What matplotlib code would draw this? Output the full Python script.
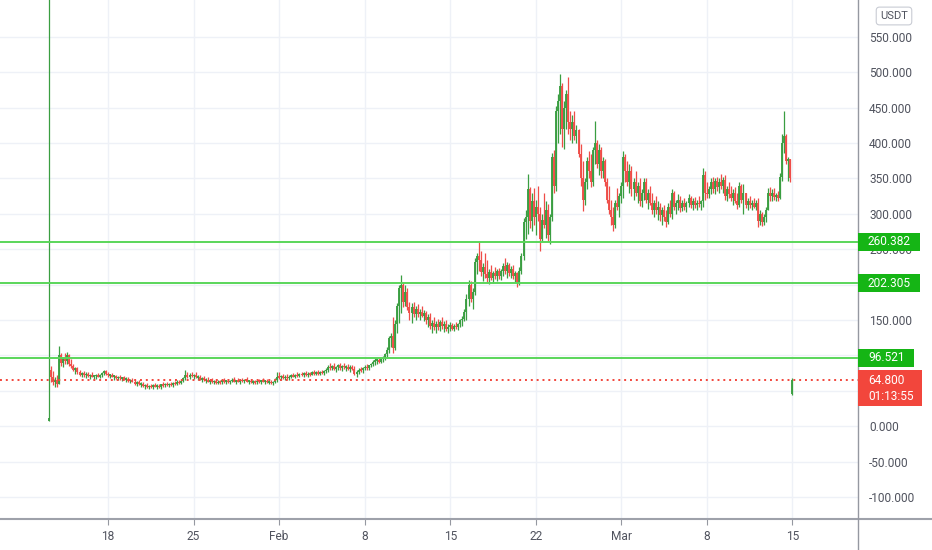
import matplotlib
matplotlib.use("Agg")
import matplotlib.pyplot as plt
import matplotlib.dates as mdates
from matplotlib.transforms import blended_transform_factory, offset_copy, IdentityTransform
from matplotlib.patches import Rectangle
from matplotlib.lines import Line2D
from datetime import datetime, timedelta
import numpy as np

# ---------------- data ----------------
start_time = datetime(2021, 1, 13, 4)   # first 4h bar
bar_hours = 4

# one row per day (Jan 13 has 5 bars, then 6 bars per day), last row = Mar 15 bar
high = [
    900, 85, 78, 70, 72,
    114, 104, 98, 103, 105, 102,
    95, 88, 84, 84, 79, 77,
    78, 76, 77, 74, 76, 73,
    74, 75, 74, 76, 80, 79,
    76, 74, 75, 72, 73, 71,
    72, 70, 71, 69, 69, 67,
    68, 66, 64, 65, 62, 63,
    60, 61, 58, 60, 59, 61,
    59, 60, 60, 62, 61, 63,
    61, 63, 62, 64, 65, 66,
    66, 70, 79, 76, 75, 76,
    74, 76, 72, 73, 70, 71,
    68, 69, 67, 68, 66, 67,
    65, 66, 67, 68, 66, 67,
    66, 68, 69, 66, 68, 67,
    68, 67, 69, 66, 67, 65,
    66, 65, 67, 66, 68, 66,
    67, 65, 66, 64, 68, 77,
    76, 73, 74, 72, 74, 72,
    74, 75, 74, 76, 75, 77,
    76, 78, 76, 77, 78, 79,
    78, 80, 78, 80, 79, 82,
    86, 90, 87, 89, 85, 88,
    89, 87, 90, 86, 88, 86,
    87, 85, 80, 82, 84, 83,
    86, 88, 87, 90, 93, 96,
    96, 97, 96, 99, 104, 112,
    128, 132, 154, 150, 174, 199,
    214, 202, 199, 195, 176, 174,
    175, 170, 172, 166, 170, 164,
    163, 158, 160, 150, 154, 148,
    152, 150, 154, 148, 150, 144,
    147, 146, 145, 147, 146, 152,
    156, 165, 187, 206, 205, 195,
    238, 245, 262, 248, 230, 245,
    235, 222, 228, 220, 225, 222,
    224, 222, 230, 238, 232, 230,
    226, 228, 220, 218, 225, 245,
    294, 305, 356, 338, 330, 337,
    320, 339, 310, 300, 330, 318,
    314, 300, 386, 390, 452, 470,
    497, 485, 460, 475, 494, 445,
    440, 445, 425, 420, 399, 375,
    350, 380, 389, 385, 395, 431,
    405, 399, 395, 380, 378, 350,
    339, 320, 310, 320, 337, 330,
    345, 389, 385, 375, 370, 368,
    350, 360, 345, 350, 335, 351,
    350, 335, 340, 330, 320, 325,
    318, 315, 310, 312, 305, 315,
    320, 335, 332, 320, 328, 325,
    320, 322, 318, 328, 325, 322,
    324, 320, 325, 320, 365, 360,
    345, 340, 350, 352, 350, 352,
    350, 356, 352, 355, 340, 345,
    340, 335, 338, 330, 345, 342,
    342, 330, 322, 325, 320, 322,
    320, 322, 305, 302, 300, 310,
    336, 338, 335, 336, 330, 332,
    358, 413, 445, 413, 380, 378,
    68,
]
low = [
    7, 62, 58, 55, 56,
    60, 85, 84, 88, 88, 85,
    82, 78, 74, 74, 71, 69,
    70, 68, 70, 67, 69, 66,
    67, 69, 68, 70, 72, 72,
    70, 68, 69, 66, 67, 65,
    66, 64, 65, 63, 63, 61,
    62, 58, 57, 58, 55, 56,
    53, 54, 52, 54, 53, 55,
    53, 54, 53, 56, 55, 57,
    55, 57, 56, 58, 58, 59,
    60, 62, 66, 68, 67, 69,
    67, 68, 65, 65, 63, 64,
    61, 62, 60, 61, 59, 60,
    59, 60, 60, 61, 60, 61,
    60, 62, 62, 60, 62, 60,
    62, 61, 62, 60, 61, 59,
    60, 59, 61, 60, 62, 60,
    61, 59, 60, 58, 61, 63,
    67, 65, 67, 65, 67, 66,
    68, 69, 68, 70, 69, 71,
    70, 71, 70, 71, 72, 72,
    72, 73, 72, 74, 73, 75,
    77, 80, 79, 80, 77, 79,
    80, 78, 81, 78, 80, 77,
    79, 72, 69, 74, 76, 75,
    79, 80, 80, 83, 85, 87,
    88, 89, 89, 91, 94, 97,
    104, 112, 103, 108, 131, 146,
    160, 168, 170, 164, 150, 146,
    155, 150, 155, 150, 154, 148,
    145, 140, 138, 132, 136, 131,
    136, 134, 138, 133, 135, 131,
    135, 136, 135, 137, 136, 140,
    142, 148, 150, 170, 175, 165,
    185, 215, 220, 212, 205, 210,
    203, 201, 206, 203, 208, 205,
    208, 206, 212, 215, 210, 212,
    210, 208, 204, 197, 200, 215,
    235, 265, 272, 280, 276, 285,
    270, 290, 248, 262, 280, 266,
    262, 258, 290, 330, 332, 400,
    413, 395, 392, 420, 413, 405,
    400, 405, 400, 380, 340, 304,
    312, 335, 350, 338, 340, 370,
    365, 355, 351, 350, 340, 315,
    300, 285, 276, 280, 305, 295,
    315, 323, 345, 340, 330, 325,
    320, 325, 315, 311, 310, 320,
    315, 307, 312, 300, 295, 300,
    292, 290, 285, 290, 281, 286,
    295, 293, 305, 300, 305, 302,
    304, 305, 303, 310, 308, 306,
    308, 305, 310, 306, 310, 320,
    323, 322, 328, 330, 328, 332,
    330, 335, 330, 320, 318, 322,
    318, 312, 315, 307, 310, 315,
    300, 308, 305, 308, 306, 308,
    306, 281, 285, 283, 284, 288,
    305, 318, 318, 320, 318, 318,
    321, 346, 386, 371, 347, 345,
    44,
]
close = [
    12, 70, 62, 66, 60,
    100, 90, 96, 92, 100, 88,
    85, 80, 82, 76, 73, 75,
    72, 74, 71, 72, 70, 71,
    73, 70, 72, 75, 78, 74,
    72, 73, 70, 71, 68, 70,
    68, 69, 66, 67, 64, 66,
    63, 60, 62, 59, 60, 57,
    58, 55, 57, 55, 58, 56,
    57, 55, 59, 58, 60, 58,
    60, 58, 61, 60, 63, 61,
    64, 68, 72, 70, 73, 71,
    72, 69, 70, 66, 68, 65,
    66, 63, 65, 62, 64, 61,
    63, 62, 65, 63, 64, 62,
    64, 66, 63, 65, 63, 65,
    64, 66, 63, 64, 62, 63,
    62, 64, 63, 65, 63, 64,
    62, 63, 61, 63, 66, 70,
    69, 71, 68, 70, 68, 70,
    72, 70, 73, 71, 74, 72,
    75, 72, 74, 73, 76, 74,
    77, 74, 77, 75, 78, 80,
    84, 82, 85, 81, 83, 86,
    82, 85, 83, 84, 81, 83,
    81, 74, 77, 80, 79, 82,
    84, 82, 86, 88, 91, 93,
    94, 91, 95, 97, 102, 108,
    124, 128, 110, 145, 170, 195,
    200, 175, 190, 168, 160, 168,
    158, 165, 158, 162, 156, 160,
    150, 155, 142, 146, 140, 145,
    140, 147, 141, 145, 138, 140,
    143, 138, 142, 140, 144, 150,
    152, 162, 180, 200, 180, 190,
    232, 240, 235, 218, 225, 215,
    210, 218, 210, 216, 212, 219,
    212, 219, 226, 220, 228, 216,
    222, 212, 216, 203, 220, 240,
    288, 295, 335, 290, 318, 295,
    310, 300, 265, 292, 285, 305,
    270, 295, 380, 340, 445, 460,
    480, 420, 450, 470, 430, 420,
    430, 410, 418, 385, 350, 320,
    345, 375, 360, 345, 390, 400,
    370, 390, 360, 375, 345, 320,
    305, 295, 285, 315, 310, 325,
    340, 380, 360, 345, 360, 335,
    345, 330, 340, 318, 330, 345,
    320, 330, 315, 305, 315, 305,
    310, 298, 305, 295, 288, 310,
    300, 330, 310, 315, 320, 308,
    315, 310, 316, 322, 312, 318,
    312, 316, 314, 318, 355, 330,
    328, 335, 345, 335, 346, 338,
    345, 340, 348, 325, 335, 328,
    322, 330, 318, 312, 340, 320,
    330, 312, 318, 312, 316, 310,
    315, 290, 300, 288, 296, 305,
    330, 325, 330, 324, 326, 322,
    352, 400, 410, 375, 378, 350,
    64.8,
]
# bars whose open is not the previous close
open_overrides = {0: 8, 1: 80, 365: 45}

levels = [260.382, 202.305, 96.521]
level_labels = ["260.382", "202.305", "96.521"]
last_price = 64.8
last_price_label = "64.800"
countdown_label = "01:13:55"
currency_label = "USDT"

xtick_dates = [datetime(2021, 1, 18), datetime(2021, 1, 25), datetime(2021, 2, 1),
               datetime(2021, 2, 8), datetime(2021, 2, 15), datetime(2021, 2, 22),
               datetime(2021, 3, 1), datetime(2021, 3, 8), datetime(2021, 3, 15)]
xtick_labels = ["18", "25", "Feb", "8", "15", "22", "Mar", "8", "15"]
yticks = list(range(-100, 551, 50))
# price labels fully covered by the price tags in the reference
hidden_ylabels = [50, 100, 200]

# ---------------- style ----------------
UP = "#3a9e41"
DOWN = "#ef4d48"
LEVEL = "#5ad65a"
TAG_GREEN = "#15b515"
TAG_RED = "#f2463c"
GRID = "#eef1f7"
TEXT = "#50535e"
FONT = "Roboto"
plt.rcParams["font.family"] = [FONT, "DejaVu Sans"]

W, H = 932, 550
fig = plt.figure(figsize=(W / 100, H / 100), dpi=100)
fig.patch.set_facecolor("white")
ax = fig.add_axes([0, 31 / H, 858 / W, 519 / H])
ax.set_facecolor("white")

n = len(close)
xs = np.array([mdates.date2num(start_time + timedelta(hours=bar_hours * i)) for i in range(n)])
c = np.array(close, dtype=float)
o = np.empty(n)
o[1:] = c[:-1]
o[0] = c[0]
for k, v in open_overrides.items():
    o[k] = v
hi = np.maximum(np.array(high, dtype=float), np.maximum(o, c))
lo = np.minimum(np.array(low, dtype=float), np.minimum(o, c))
up = c >= o
cols = np.where(up, UP, DOWN)

ax.vlines(xs, lo, hi, colors=cols, linewidth=0.9, zorder=2)
b0 = np.minimum(o, c)
b1 = np.maximum(o, c)
small = (b1 - b0) < 1.5
b0 = np.where(small, b0 - 0.75, b0)
b1 = np.where(small, b1 + 0.75, b1)
ax.vlines(xs, b0, b1, colors=cols, linewidth=1.35, zorder=2)

for v in levels:
    ax.axhline(v, color=LEVEL, linewidth=1.4, zorder=3)
ax.axhline(last_price, color=TAG_RED, linewidth=1.4, linestyle=(0, (1, 2)), zorder=3)

ax.set_xlim(mdates.date2num(datetime(2021, 1, 9, 3, 50)), mdates.date2num(datetime(2021, 3, 20, 8, 53)))
ax.set_ylim(-131.1, 602.2)

ax.set_xticks([mdates.date2num(d) for d in xtick_dates])
ax.set_xticklabels(xtick_labels)
ax.set_yticks(yticks)
ax.set_yticklabels(["" if v in hidden_ylabels else f"{v:.3f}" for v in yticks])
ax.yaxis.tick_right()
ax.grid(True, color=GRID, linewidth=1, zorder=0)
ax.set_axisbelow(True)
for s in ax.spines.values():
    s.set_visible(False)
ax.tick_params(axis="y", length=0, pad=8, labelsize=8.6, labelcolor=TEXT)
ax.tick_params(axis="x", length=4, width=0.8, color="#9598a1", pad=4, labelsize=8.6, labelcolor=TEXT)

pos = ax.get_position()
fig.add_artist(Line2D([0, 1], [pos.y0, pos.y0], transform=fig.transFigure, color="#9ea1aa", linewidth=1.5, zorder=4))
fig.add_artist(Line2D([pos.x1, pos.x1], [0, 1], transform=fig.transFigure, color="#9598a1", linewidth=1.0, zorder=4))

# currency box
fig.text(894 / W, 1 - 16 / H, currency_label, ha="center", va="center", fontsize=8, color=TEXT,
         bbox=dict(boxstyle="round,pad=0.35,rounding_size=0.3", fc="white", ec="#c9ccd4", lw=0.8))

# price tags
fig.canvas.draw()
renderer = fig.canvas.get_renderer()
ax_px = ax.get_window_extent(renderer)
trans_lbl = blended_transform_factory(ax.transAxes, ax.transData)

for v, lab in zip(levels, level_labels):
    t = fig.text(1.0, v, lab, transform=offset_copy(trans_lbl, fig=fig, x=10, y=0, units="dots"),
                 ha="left", va="center", color="white", fontsize=8.6, zorder=7)
    bb = t.get_window_extent(renderer)
    yc = ax.transData.transform((0, v))[1]
    fig.add_artist(Rectangle((ax_px.x1, yc - 9), bb.x1 - ax_px.x1 + 9, 18,
                             transform=IdentityTransform(), fc=TAG_GREEN, ec="none", zorder=6))

t1 = fig.text(1.0, last_price, last_price_label, transform=offset_copy(trans_lbl, fig=fig, x=10, y=0, units="dots"),
              ha="left", va="center", color="white", fontsize=8.6, zorder=7)
t2 = fig.text(1.0, last_price, countdown_label, transform=offset_copy(trans_lbl, fig=fig, x=10, y=-16, units="dots"),
              ha="left", va="center", color="white", fontsize=8.6, zorder=7)
bb2 = t2.get_window_extent(renderer)
yc = ax.transData.transform((0, last_price))[1]
fig.add_artist(Rectangle((ax_px.x1, yc - 26), bb2.x1 - ax_px.x1 + 8, 36,
                         transform=IdentityTransform(), fc=TAG_RED, ec="none", zorder=6))

fig.savefig("out.png", dpi=100, facecolor="white")
